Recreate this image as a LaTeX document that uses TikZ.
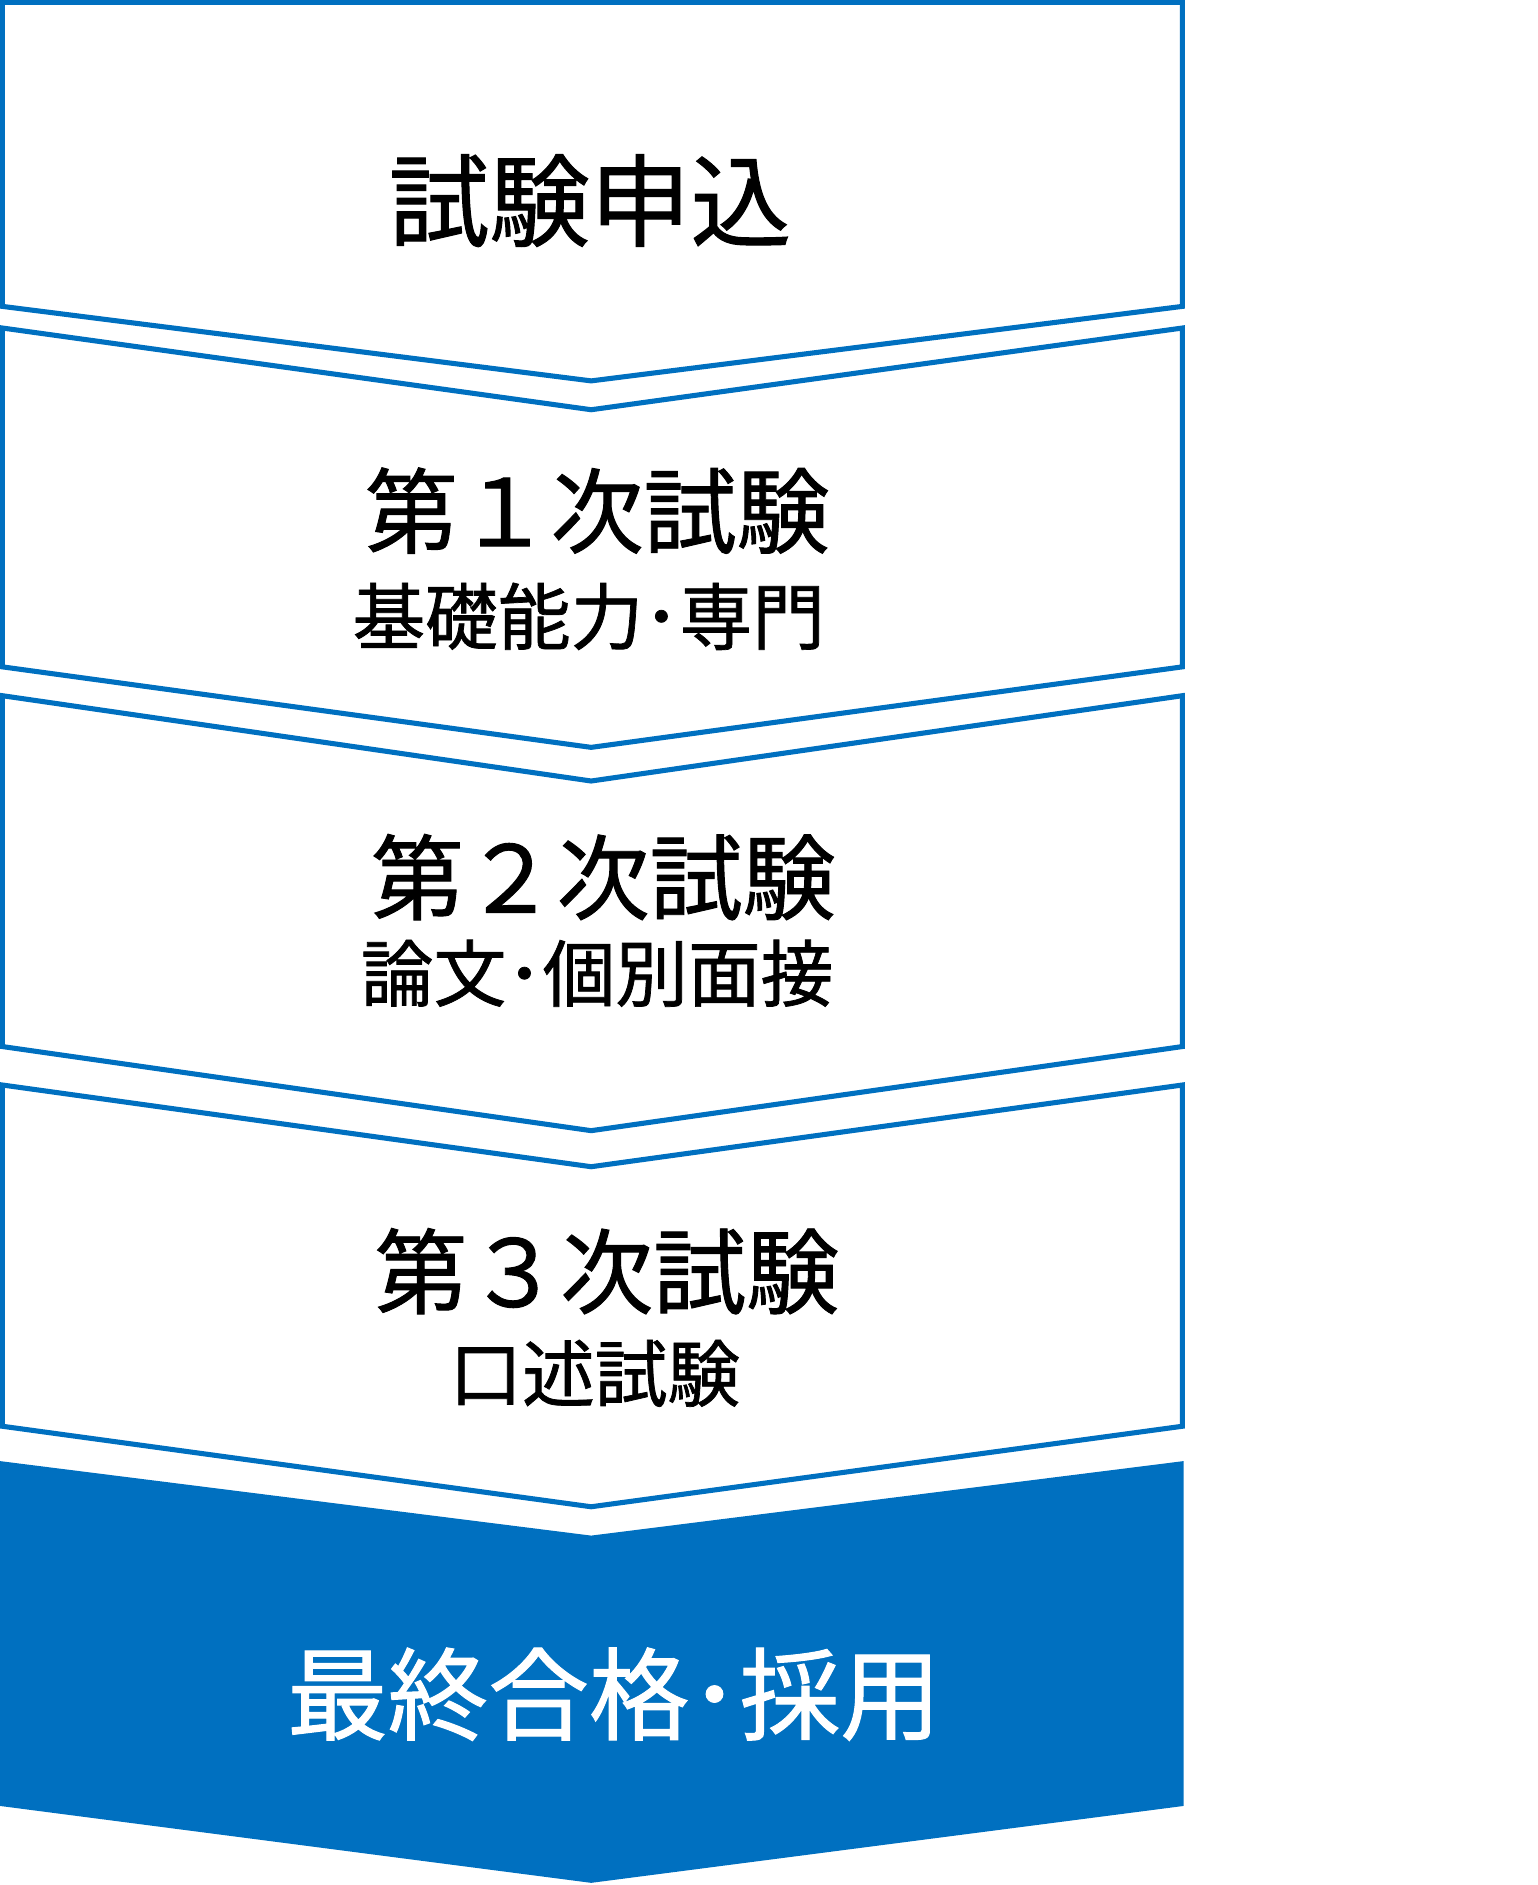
\documentclass[tikz,border=0pt]{standalone}
\usepackage{fontspec}
\newfontfamily\cjk[FakeBold=1]{Noto Sans CJK JP}
\definecolor{bleu}{RGB}{0,112,192}
\begin{document}
\begin{tikzpicture}[x=0.01cm, y=-0.01cm]
	\tikzset{etape/.style={draw=bleu, line width=1.2pt, fill=white, line join=miter}, final/.style={fill=bleu}, titre/.style={font=\cjk\fontsize{22pt}{26pt}\selectfont, inner sep=0}, sous/.style={font=\cjk\fontsize{17.2pt}{20pt}\selectfont, inner sep=0}};
	\useasboundingbox (0,0) rectangle (1280,1568.8);

	\draw[etape] (2,2) -- (984,2) -- (984,255) -- (492,317) -- (2,255) -- cycle;
	\draw[etape] (2,273) -- (492,341) -- (984,273) -- (984,555) -- (492,622) -- (2,555) -- cycle;
	\draw[etape] (2,579) -- (492,650) -- (984,579) -- (984,871) -- (492,941) -- (2,871) -- cycle;
	\draw[etape] (2,903) -- (492,971) -- (984,903) -- (984,1187) -- (492,1254) -- (2,1187) -- cycle;
	\fill[final] (0,1216) -- (492,1278) -- (985,1216) -- (985,1503) -- (492,1567) -- (0,1503) -- cycle;

	\node[titre, font=\cjk\fontsize{23.8pt}{28pt}\selectfont] (demande) at (491,167) {試験申込};
	\node[titre] (t1) at (497,425) {第１次試験};
	\node[sous] (s1) at (490,513) {基礎能力･専門};
	\node[titre] (t2) at (502,730) {第２次試験};
	\node[sous] (s2) at (497,810) {論文･個別面接};
	\node[titre] (t3) at (505,1058) {第３次試験};
	\node[sous] (s3) at (495,1143) {口述試験};
	\node[titre, font=\cjk\fontsize{23.8pt}{28pt}\selectfont, text=white] (fin) at (511,1410) {最終合格･採用};
\end{tikzpicture}
\end{document}
